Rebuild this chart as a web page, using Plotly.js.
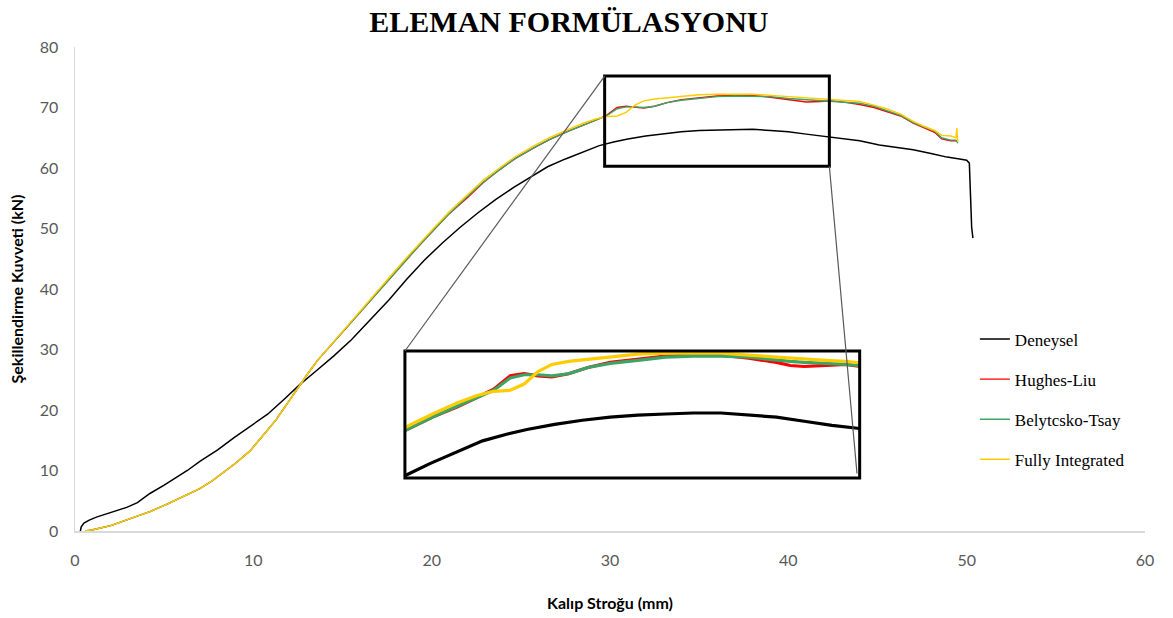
<!DOCTYPE html>
<html>
<head>
<meta charset="utf-8">
<script src="https://cdn.plot.ly/plotly-3.0.1.min.js"></script>
<style>html,body{margin:0;padding:0;background:#fff;}#chart{width:1173px;height:618px;}</style>
</head>
<body>
<div id="chart"></div>
<script>
// ---- Data ----
const chartTitle = "ELEMAN FORMÜLASYONU";
const xTitle = "Kalıp Stroğu (mm)";
const yTitle = "Şekillendirme Kuvveti (kN)";
const seriesNames = ["Deneysel", "Hughes-Liu", "Belytcsko-Tsay", "Fully Integrated"];

const expX = [0.3, 0.35, 0.5, 0.8, 1.2, 1.6, 2.2, 2.9, 3.5, 4.2, 5.0, 5.6, 6.3, 7.0, 8.0, 8.9, 9.8, 10.8, 11.7, 12.6, 13.5, 14.5, 15.5, 16.5, 17.6, 18.6, 19.6, 20.6, 21.6, 22.6, 23.6, 24.6, 25.6, 26.5, 27.5, 28.5, 29.4, 30.2, 31.0, 32.0, 33.0, 34.0, 35.0, 36.0, 37.0, 38.0, 39.0, 40.0, 41.0, 42.0, 43.0, 44.0, 45.1, 46.0, 47.0, 48.0, 48.9, 49.6, 50.0, 50.15, 50.2, 50.28, 50.35];
const expY = [0, 0.7, 1.3, 1.8, 2.3, 2.7, 3.2, 3.9, 4.7, 6.2, 7.6, 8.7, 10.0, 11.5, 13.4, 15.4, 17.3, 19.3, 21.7, 24.2, 26.4, 28.9, 31.6, 34.7, 38.2, 41.6, 44.8, 47.6, 50.2, 52.6, 54.8, 56.8, 58.6, 60.2, 61.5, 62.7, 63.7, 64.3, 64.8, 65.3, 65.7, 66.0, 66.2, 66.3, 66.4, 66.4, 66.2, 66.0, 65.6, 65.2, 64.9, 64.5, 63.8, 63.4, 63.0, 62.4, 61.8, 61.5, 61.3, 60.8, 57.0, 50.2, 48.4];

const simX = [0.6, 1.0, 2.0, 3.3, 4.2, 5.2, 6.1, 7.0, 7.7, 8.3, 9.0, 9.8, 10.3, 10.8, 11.3, 11.7, 12.2, 12.6, 13.1, 13.6, 14.5, 15.5, 16.5, 17.5, 18.6, 19.3, 20.1, 21.0, 22.0, 22.9, 23.8, 24.7, 25.7, 26.6, 27.6, 28.5, 29.2, 29.8, 30.4, 30.9, 31.4, 31.9, 32.5, 33.2, 34.0, 35.0, 36.0, 37.0, 38.0, 39.0, 40.0, 40.5, 41.0, 41.8, 42.5, 43.3, 44.0, 44.8, 45.5, 46.3, 47.0, 47.6, 48.2, 48.6, 49.1, 49.4, 49.45, 49.5];
const hughesY = [0, 0.2, 0.9, 2.2, 3.2, 4.5, 5.7, 7.0, 8.3, 9.6, 11.2, 13.2, 14.9, 16.7, 18.5, 20.2, 22.4, 24.2, 26.2, 28.2, 31.2, 34.5, 37.9, 41.3, 44.9, 47.2, 49.7, 52.5, 55.1, 57.6, 59.7, 61.6, 63.3, 64.7, 66.0, 67.0, 67.9, 68.7, 70.0, 70.2, 70.0, 69.9, 70.2, 70.8, 71.3, 71.6, 71.9, 72.0, 72.0, 71.7, 71.3, 71.0, 70.9, 71.0, 71.1, 70.8, 70.5, 70.0, 69.4, 68.6, 67.4, 66.6, 65.9, 64.8, 64.5, 64.5, 64.4, 64.3];
const belytY = [0, 0.2, 0.9, 2.2, 3.2, 4.5, 5.7, 7.0, 8.3, 9.6, 11.2, 13.2, 14.9, 16.7, 18.5, 20.2, 22.4, 24.2, 26.2, 28.2, 31.2, 34.5, 37.9, 41.3, 44.9, 47.2, 49.7, 52.5, 55.3, 57.7, 59.7, 61.6, 63.3, 64.7, 66.0, 67.1, 67.9, 68.6, 69.8, 70.1, 70.1, 70.0, 70.2, 70.8, 71.2, 71.5, 71.8, 71.9, 71.9, 71.8, 71.5, 71.4, 71.3, 71.2, 71.1, 70.9, 70.7, 70.2, 69.5, 68.7, 67.5, 66.8, 66.1, 65.0, 64.6, 64.6, 64.3, 64.1];
const fullY = [0, 0.2, 0.9, 2.2, 3.2, 4.5, 5.7, 7.0, 8.3, 9.6, 11.2, 13.2, 14.9, 16.7, 18.5, 20.2, 22.4, 24.2, 26.2, 28.2, 31.3, 34.6, 38.0, 41.5, 45.2, 47.5, 50.0, 52.8, 55.6, 58.0, 60.0, 61.9, 63.6, 65.0, 66.3, 67.4, 68.1, 68.5, 68.6, 69.2, 70.4, 71.1, 71.4, 71.6, 71.8, 72.1, 72.2, 72.2, 72.2, 72.0, 71.8, 71.7, 71.6, 71.5, 71.4, 71.2, 71.0, 70.4, 69.8, 68.9, 67.7, 66.9, 66.2, 65.4, 65.3, 65.0, 66.6, 64.3];

// ---- Styling / layout constants ----
const colors = ["#000000", "#ff0000", "#3aa564", "#ffcc00"];
const xRange = [0, 60], yRange = [0, 80];
const zoomBox = {x0: 29.7, x1: 42.3, y0: 60.3, y1: 75.2};       // box on main chart
const insetBox = {x0: 18.5, x1: 44.0, y0: 8.75, y1: 29.75};     // inset placement (main data units)
const insetXRange = [26.6, 43.0], insetYRange = [60.1, 72.4];
const rightLinkEnd = {x: 43.85, y: 9.5};

const series = [
  {x: expX, y: expY}, {x: simX, y: hughesY}, {x: simX, y: belytY}, {x: simX, y: fullY}
];

const traces = [];
series.forEach((s, i) => {
  traces.push({
    type: "scatter", mode: "lines", x: s.x, y: s.y, name: seriesNames[i],
    line: {color: colors[i], width: i === 0 ? 1.5 : 1.4}, legendgroup: "g" + i,
    xaxis: "x", yaxis: "y", hoverinfo: "skip"
  });
});
series.forEach((s, i) => {
  traces.push({
    type: "scatter", mode: "lines", x: s.x, y: s.y, name: seriesNames[i],
    line: {color: colors[i], width: 3.2}, showlegend: false,
    xaxis: "x2", yaxis: "y2", hoverinfo: "skip", cliponaxis: true
  });
});

const layout = {
  width: 1173, height: 618,
  margin: {l: 75, r: 28, t: 47, b: 87},
  paper_bgcolor: "#fff", plot_bgcolor: "rgba(0,0,0,0)",
  title: {
    text: chartTitle, x: 0.485, xref: "container", xanchor: "center",
    y: 1 - 21 / 618, yref: "container", yanchor: "middle",
    font: {family: "Liberation Serif, Times New Roman, serif", size: 30, color: "#000", weight: "bold"}
  },
  xaxis: {
    range: xRange, dtick: 10, showgrid: false, zeroline: false,
    showline: true, linecolor: "#d9d9d9", linewidth: 1.5, ticks: "",
    ticklabelstandoff: 14,
    tickfont: {family: "Lato, Carlito, sans-serif", size: 16, color: "#595959"},
    title: {text: xTitle, standoff: 30, font: {family: "Lato, Carlito, sans-serif", size: 16, color: "#000", weight: "bold"}},
    domain: [0, 1], anchor: "y"
  },
  yaxis: {
    range: yRange, dtick: 10, showgrid: false, zeroline: false,
    showline: true, linecolor: "#d9d9d9", linewidth: 1.5, ticks: "",
    ticklabelstandoff: 12,
    tickfont: {family: "Lato, Carlito, sans-serif", size: 16, color: "#595959"},
    title: {text: yTitle, standoff: 12, font: {family: "Lato, Carlito, sans-serif", size: 16, color: "#000", weight: "bold"}},
    domain: [0, 1], anchor: "x"
  },
  xaxis2: {
    domain: [insetBox.x0 / xRange[1], insetBox.x1 / xRange[1]], range: insetXRange,
    visible: false, anchor: "y2"
  },
  yaxis2: {
    domain: [insetBox.y0 / yRange[1], insetBox.y1 / yRange[1]], range: insetYRange,
    visible: false, anchor: "x2"
  },
  showlegend: true,
  legend: {
    x: 0.841, xanchor: "left", y: 0.433, yanchor: "top",
    bgcolor: "rgba(0,0,0,0)", tracegroupgap: 15,
    font: {family: "Liberation Serif, Times New Roman, serif", size: 17, color: "#000"}
  },
  shapes: [
    {type: "rect", xref: "x", yref: "y", x0: zoomBox.x0, x1: zoomBox.x1, y0: zoomBox.y0, y1: zoomBox.y1,
     line: {color: "#000", width: 3}},
    {type: "rect", xref: "x", yref: "y", x0: insetBox.x0, x1: insetBox.x1, y0: insetBox.y0, y1: insetBox.y1,
     line: {color: "#000", width: 3}},
    {type: "line", xref: "x", yref: "y", x0: zoomBox.x0, y0: zoomBox.y1, x1: insetBox.x0, y1: insetBox.y1,
     line: {color: "#595959", width: 1.2}},
    {type: "line", xref: "x", yref: "y", x0: zoomBox.x1, y0: zoomBox.y0, x1: rightLinkEnd.x, y1: rightLinkEnd.y,
     line: {color: "#595959", width: 1.2}}
  ]
};

Plotly.newPlot("chart", traces, layout, {staticPlot: true, displayModeBar: false});
</script>
</body>
</html>
